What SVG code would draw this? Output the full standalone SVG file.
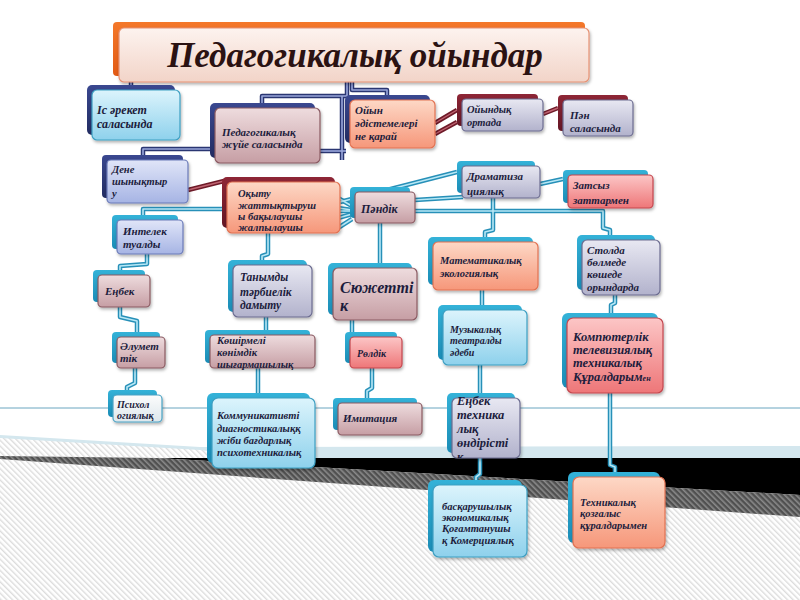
<svg xmlns="http://www.w3.org/2000/svg" xmlns:xlink="http://www.w3.org/1999/xlink" width="800" height="600" viewBox="0 0 800 600">
<defs>
<pattern id="hatchL" patternUnits="userSpaceOnUse" width="4" height="4" patternTransform="rotate(-45)">
<rect width="4" height="4" fill="#ffffff"/><rect width="1.4" height="4" fill="#dcdcdc"/>
</pattern>
<pattern id="hatchD" patternUnits="userSpaceOnUse" width="4" height="4" patternTransform="rotate(-45)">
<rect width="4" height="4" fill="#505050"/><rect width="1.6" height="4" fill="#8a8a8a"/>
</pattern>
<linearGradient id="gCyan" x1="0" y1="0" x2="0" y2="1"><stop offset="0" stop-color="#dcf4fc"/><stop offset="1" stop-color="#8ed1ec"/></linearGradient>
<linearGradient id="gLav" x1="0" y1="0" x2="0" y2="1"><stop offset="0" stop-color="#e8e8f2"/><stop offset="1" stop-color="#b2b2cc"/></linearGradient>
<linearGradient id="gMauve" x1="0" y1="0" x2="0" y2="1"><stop offset="0" stop-color="#eedcde"/><stop offset="1" stop-color="#c69ea4"/></linearGradient>
<linearGradient id="gSalmon" x1="0" y1="0" x2="0" y2="1"><stop offset="0" stop-color="#fdd8c6"/><stop offset="1" stop-color="#f6977a"/></linearGradient>
<linearGradient id="gRed" x1="0" y1="0" x2="0" y2="1"><stop offset="0" stop-color="#fcc6c6"/><stop offset="1" stop-color="#ee7678"/></linearGradient>
<linearGradient id="gPeri" x1="0" y1="0" x2="0" y2="1"><stop offset="0" stop-color="#e0e5f8"/><stop offset="1" stop-color="#a6b4e4"/></linearGradient>
<linearGradient id="gGray" x1="0" y1="0" x2="0" y2="1"><stop offset="0" stop-color="#fcfcfc"/><stop offset="1" stop-color="#dde7ec"/></linearGradient>
<linearGradient id="gTitle" x1="0" y1="0" x2="0" y2="1"><stop offset="0" stop-color="#fdf3ef"/><stop offset="1" stop-color="#f2d4c8"/></linearGradient>
<linearGradient id="gNavy" x1="0" y1="0" x2="0" y2="1"><stop offset="0" stop-color="#3a4890"/><stop offset="1" stop-color="#222c62"/></linearGradient>
<linearGradient id="gTeal" x1="0" y1="0" x2="0" y2="1"><stop offset="0" stop-color="#34b2d8"/><stop offset="1" stop-color="#1a8cb6"/></linearGradient>
<linearGradient id="gMaroon" x1="0" y1="0" x2="0" y2="1"><stop offset="0" stop-color="#8e2636"/><stop offset="1" stop-color="#641624"/></linearGradient>
<linearGradient id="gOrange" x1="0" y1="0" x2="0" y2="1"><stop offset="0" stop-color="#f4782a"/><stop offset="1" stop-color="#e25a14"/></linearGradient>
<filter id="sh" x="-10%" y="-10%" width="130%" height="140%"><feDropShadow dx="1" dy="2" stdDeviation="1.5" flood-color="#000" flood-opacity="0.3"/></filter>
<clipPath id="clipET"><rect x="452" y="394" width="68" height="64"/></clipPath>
</defs>
<style>
.t{font-family:"Liberation Serif","DejaVu Serif",serif;font-style:italic;font-weight:bold;font-size:11px;fill:#1c1c3c}
.title{font-family:"Liberation Serif","DejaVu Serif",serif;font-style:italic;font-weight:bold;font-size:35px;fill:#2b1212}
.fr{filter:url(#sh);stroke-width:1.2}
.cyan{fill:url(#gCyan);stroke:#3d9fc2}
.lav{fill:url(#gLav);stroke:#6c6c90}
.mauve{fill:url(#gMauve);stroke:#8a5a62}
.salmon{fill:url(#gSalmon);stroke:#e27252}
.red{fill:url(#gRed);stroke:#c4464e}
.peri{fill:url(#gPeri);stroke:#6a7ab8}
.gray{fill:url(#gGray);stroke:#4aa2c4}
.bnavy{fill:url(#gNavy)}
.bteal{fill:url(#gTeal)}
.bmaroon{fill:url(#gMaroon)}
.tealO{fill:none;stroke:#2790b8;stroke-width:4.5;stroke-linejoin:round}
.tealI{fill:none;stroke:#b8e8f6;stroke-width:1.6;stroke-linejoin:round}
.navyO{fill:none;stroke:#2a3672;stroke-width:4.5;stroke-linejoin:round}
.navyI{fill:none;stroke:#9aa8dc;stroke-width:1.6;stroke-linejoin:round}
.marO{fill:none;stroke:#6e1a28;stroke-width:4.5}
.marI{fill:none;stroke:#c06472;stroke-width:1.4}
</style>

<g id="background">
<rect width="800" height="600" fill="#ffffff"/>
<line x1="0" y1="408" x2="800" y2="408" stroke="#6aa6c0" stroke-width="1"/>
<polygon points="0,437 200,449 800,449 800,600 0,600" fill="url(#hatchL)"/>
<polygon points="0,435 200,447 800,446 800,458 260,458 200,450 0,438" fill="#d4e7ee"/>
<polygon points="157,458 800,458 800,495" fill="#000000"/>
<polygon points="0,456 157,458 800,495 800,517 0,459" fill="url(#hatchD)"/>
</g>

<g id="connectors">
<g class="tealO">
<path id="c1" d="M338,198 L352,206"/>
<path id="c2" d="M338,208 L352,210"/>
<path id="c3" d="M338,218 L352,214"/>
<path id="c4" d="M338,228 L352,219"/>
<path id="c5" d="M340,202 L457,172"/>
<path id="c6" d="M415,200 L463,197"/>
<path id="c7" d="M340,211 H603 V228 L610,230 V236"/>
<path id="c8" d="M540,184 L563,179"/>
<path id="c9" d="M493,198 V230 L485,232 V238"/>
<path id="c10" d="M380,223 V263"/>
<path id="c11" d="M268,233 V254 L262,256 V260"/>
<path id="c12" d="M228,209 H143 V216"/>
<path id="c13" d="M147,254 V264 L120,266 V270"/>
<path id="c14" d="M120,307 V317 L137,321 V332"/>
<path id="c15" d="M135,368 V383 L127,387 V390"/>
<path id="c16" d="M266,317 V330"/>
<path id="c17" d="M258,368 V393"/>
<path id="c18" d="M352,320 V332"/>
<path id="c19" d="M372,368 V388 L367,391 V398"/>
<path id="c20" d="M482,290 V305"/>
<path id="c21" d="M480,365 V393"/>
<path id="c22" d="M480,458 V474 L476,477 V480"/>
<path id="c23" d="M615,295 V303 L611,305 V313"/>
<path id="c24" d="M610,393 V465 L615,467 V472"/>
</g>
<g class="tealI">
<use href="#c1"/><use href="#c2"/><use href="#c3"/><use href="#c4"/><use href="#c5"/><use href="#c6"/>
<use href="#c7"/><use href="#c8"/><use href="#c9"/><use href="#c10"/><use href="#c11"/><use href="#c12"/>
<use href="#c13"/><use href="#c14"/><use href="#c15"/><use href="#c16"/><use href="#c17"/><use href="#c18"/>
<use href="#c19"/><use href="#c20"/><use href="#c21"/><use href="#c22"/><use href="#c23"/><use href="#c24"/>
</g>
<g class="navyO">
<path id="n1" d="M131,80 V86"/>
<path id="n2" d="M347,82 V96 H262 V103"/>
<path id="n3" d="M352,82 V90 H387 V96"/>
<path id="n4" d="M320,151 H346"/>
<path id="n5" d="M342,96 V160"/>
<path id="n6" d="M215,149 H143 V155"/>
</g>
<g class="navyI">
<use href="#n1"/><use href="#n2"/><use href="#n3"/><use href="#n4"/><use href="#n5"/><use href="#n6"/>
</g>
<g class="marO">
<path id="m1" d="M435,123 L457,110"/>
<path id="m2" d="M435,134 L457,122"/>
<path id="m3" d="M543,114 L558,108"/>
<path id="m4" d="M188,190 L224,181"/>
</g>
<g class="marI">
<use href="#m1"/><use href="#m2"/><use href="#m3"/><use href="#m4"/>
</g>
</g>

<g id="title">
<rect x="113" y="22" width="472" height="54" rx="4" fill="url(#gOrange)"/>
<rect class="fr" x="119" y="28" width="470" height="54" rx="5" fill="url(#gTitle)" stroke="#e69274"/>
<text class="title" x="355" y="67" text-anchor="middle">Педагогикалық ойындар</text>
</g>

<g id="isareket">
<rect class="bnavy" x="87" y="85" width="88" height="50" rx="5"/>
<rect class="fr cyan" x="92" y="90" width="88" height="50" rx="5"/>
<text class="t"><tspan x="97" y="114" style="font-size:12px">Іс әрекет</tspan><tspan x="97" y="128" style="font-size:12px">саласында</tspan></text>
</g>

<g id="pedjuie">
<rect class="bnavy" x="210" y="103" width="105" height="55" rx="5"/>
<rect class="fr mauve" x="215" y="108" width="105" height="55" rx="5"/>
<text class="t"><tspan x="222" y="136">Педагогикалық</tspan><tspan x="222" y="148">жүйе саласында</tspan></text>
</g>

<g id="oiyn">
<rect class="bnavy" x="345" y="95" width="85" height="48" rx="5"/>
<rect class="fr salmon" x="350" y="100" width="85" height="48" rx="5"/>
<text class="t"><tspan x="355" y="114">Ойын</tspan><tspan x="355" y="127">әдістемелері</tspan><tspan x="355" y="140">не қарай</tspan></text>
</g>

<g id="oiyndyk">
<rect class="bmaroon" x="457" y="94" width="81" height="32" rx="4"/>
<rect class="fr lav" x="462" y="99" width="81" height="32" rx="4"/>
<text class="t" style="font-size:10.5px"><tspan x="467" y="113">Ойындық</tspan><tspan x="467" y="126">ортада</tspan></text>
</g>

<g id="pan">
<rect class="bmaroon" x="558" y="95" width="70" height="36" rx="4"/>
<rect class="fr lav" x="563" y="100" width="70" height="36" rx="4"/>
<text class="t"><tspan x="570" y="119">Пән</tspan><tspan x="570" y="132">саласында</tspan></text>
</g>

<g id="dene">
<rect class="bnavy" x="102" y="155" width="81" height="43" rx="4"/>
<rect class="fr peri" x="107" y="160" width="81" height="43" rx="4"/>
<text class="t" style="font-size:10.5px"><tspan x="112" y="173">Дене</tspan><tspan x="112" y="185">шынықтыр</tspan><tspan x="112" y="197">у</tspan></text>
</g>

<g id="okytu">
<rect class="bmaroon" x="222" y="177" width="113" height="51" rx="5"/>
<rect class="fr salmon" x="227" y="182" width="113" height="51" rx="5"/>
<text class="t" style="font-size:10.5px"><tspan x="238" y="197">Оқыту</tspan><tspan x="238" y="209">жаттықтыруш</tspan><tspan x="238" y="220">ы бақылаушы</tspan><tspan x="238" y="231">жалпылаушы</tspan></text>
</g>

<g id="intelek">
<rect class="bteal" x="112" y="215" width="66" height="34" rx="4"/>
<rect class="fr peri" x="117" y="220" width="66" height="34" rx="4"/>
<text class="t"><tspan x="123" y="235">Интелек</tspan><tspan x="123" y="248">туалды</tspan></text>
</g>

<g id="pandik">
<rect class="bteal" x="350" y="187" width="60" height="31" rx="4"/>
<rect class="fr mauve" x="355" y="192" width="60" height="31" rx="4"/>
<text class="t" x="361" y="213" style="font-size:12px">Пәндік</text>
</g>

<g id="drama">
<rect class="bteal" x="457" y="161" width="78" height="32" rx="4"/>
<rect class="fr lav" x="462" y="166" width="78" height="32" rx="4"/>
<text class="t"><tspan x="467" y="180">Драматиза</tspan><tspan x="467" y="195">циялық</tspan></text>
</g>

<g id="zatsyz">
<rect class="bteal" x="563" y="170" width="85" height="33" rx="4"/>
<rect class="fr red" x="568" y="175" width="85" height="33" rx="4"/>
<text class="t"><tspan x="573" y="189">Затсыз</tspan><tspan x="573" y="204">заттармен</tspan></text>
</g>

<g id="enbek">
<rect class="bteal" x="93" y="270" width="52" height="32" rx="4"/>
<rect class="fr mauve" x="98" y="275" width="52" height="32" rx="4"/>
<text class="t" x="105" y="295">Еңбек</text>
</g>

<g id="aleumet">
<rect class="bteal" x="112" y="332" width="48" height="31" rx="4"/>
<rect class="fr mauve" x="117" y="337" width="48" height="31" rx="4"/>
<text class="t"><tspan x="120" y="350">Әлумет</tspan><tspan x="120" y="362">тік</tspan></text>
</g>

<g id="psihol">
<rect class="bteal" x="108" y="390" width="49" height="27" rx="4"/>
<rect class="fr gray" x="113" y="395" width="49" height="27" rx="4"/>
<text class="t" style="font-size:10px"><tspan x="117" y="408">Психол</tspan><tspan x="117" y="419">огиялық</tspan></text>
</g>

<g id="tanymdy">
<rect class="bteal" x="228" y="260" width="79" height="52" rx="5"/>
<rect class="fr lav" x="233" y="265" width="79" height="52" rx="5"/>
<text class="t" style="font-size:11.5px"><tspan x="240" y="281">Танымды</tspan><tspan x="240" y="296">тәрбиелік</tspan><tspan x="240" y="309">дамыту</tspan></text>
</g>

<g id="koshirmeli">
<rect class="bteal" x="205" y="330" width="105" height="33" rx="4"/>
<rect class="fr mauve" x="210" y="335" width="105" height="33" rx="4"/>
<text class="t" style="font-size:10.5px"><tspan x="217" y="344">Көшірмелі</tspan><tspan x="217" y="356">көнімдік</tspan><tspan x="217" y="368">шығармашылық</tspan></text>
</g>

<g id="syuzhet">
<rect class="bteal" x="328" y="263" width="84" height="52" rx="5"/>
<rect class="fr mauve" x="333" y="268" width="84" height="52" rx="5"/>
<text class="t" style="font-size:16px"><tspan x="340" y="293">Сюжетті</tspan><tspan x="340" y="311">к</tspan></text>
</g>

<g id="roldik">
<rect class="bteal" x="345" y="332" width="52" height="31" rx="4"/>
<rect class="fr red" x="350" y="337" width="52" height="31" rx="4"/>
<text class="t" x="357" y="357" style="font-size:10px">Рөлдік</text>
</g>

<g id="imitacia">
<rect class="bteal" x="333" y="398" width="84" height="32" rx="4"/>
<rect class="fr mauve" x="338" y="403" width="84" height="32" rx="4"/>
<text class="t" x="343" y="422">Имитация</text>
</g>

<g id="kommun">
<rect class="bteal" x="207" y="393" width="103" height="70" rx="6"/>
<rect class="fr cyan" x="212" y="398" width="103" height="70" rx="6"/>
<text class="t" style="font-size:10.5px"><tspan x="217" y="419">Коммуникативті</tspan><tspan x="217" y="432">диагностикалыққ</tspan><tspan x="217" y="444">жіби бағдарлық</tspan><tspan x="217" y="456">психотехникалық</tspan></text>
</g>

<g id="matem">
<rect class="bteal" x="428" y="237" width="105" height="48" rx="5"/>
<rect class="fr salmon" x="433" y="242" width="105" height="48" rx="5"/>
<text class="t" style="font-size:10.5px"><tspan x="440" y="264">Математикалық</tspan><tspan x="440" y="277">экологиялық</tspan></text>
</g>

<g id="stolda">
<rect class="bteal" x="577" y="235" width="78" height="55" rx="5"/>
<rect class="fr lav" x="582" y="240" width="78" height="55" rx="5"/>
<text class="t"><tspan x="587" y="254">Столда</tspan><tspan x="587" y="266">бөлмеде</tspan><tspan x="587" y="278">көшеде</tspan><tspan x="587" y="291">орындарда</tspan></text>
</g>

<g id="muzyka">
<rect class="bteal" x="438" y="305" width="84" height="55" rx="5"/>
<rect class="fr cyan" x="443" y="310" width="84" height="55" rx="5"/>
<text class="t" style="font-size:10px"><tspan x="450" y="333">Музыкалық</tspan><tspan x="450" y="344">театралды</tspan><tspan x="450" y="356">әдеби</tspan></text>
</g>

<g id="komp">
<rect class="bteal" x="562" y="313" width="96" height="75" rx="6"/>
<rect class="fr red" x="567" y="318" width="96" height="75" rx="6"/>
<text class="t" style="font-size:12.5px"><tspan x="573" y="341">Компютерлік</tspan><tspan x="573" y="354">телевизиялық</tspan><tspan x="573" y="367">техникалық</tspan><tspan x="573" y="381">Құралдарым<tspan style="font-size:8px">ен</tspan></tspan></text>
</g>

<g id="enbektech">
<rect class="bteal" x="447" y="393" width="68" height="60" rx="5"/>
<rect class="fr lav" x="452" y="398" width="68" height="60" rx="5"/>
<text class="t" style="font-size:12.5px" clip-path="url(#clipET)"><tspan x="457" y="405">Еңбек</tspan><tspan x="457" y="419">техника</tspan><tspan x="457" y="433">лық</tspan><tspan x="457" y="447">өндірісті</tspan><tspan x="457" y="461">к</tspan></text>
</g>

<g id="baskaru">
<rect class="bteal" x="428" y="480" width="94" height="72" rx="6"/>
<rect class="fr cyan" x="433" y="485" width="94" height="72" rx="6"/>
<text class="t" style="font-size:10.5px"><tspan x="442" y="510">басқарушылық</tspan><tspan x="442" y="521">экономикалық</tspan><tspan x="442" y="532">Қоғамтанушы</tspan><tspan x="442" y="544">қ Комерциялық</tspan></text>
</g>

<g id="tehnik">
<rect class="bteal" x="568" y="472" width="92" height="71" rx="6"/>
<rect class="fr salmon" x="573" y="477" width="92" height="71" rx="6"/>
<text class="t" style="font-size:10.5px"><tspan x="580" y="506">Техникалық</tspan><tspan x="580" y="517">қозғалыс</tspan><tspan x="580" y="529">құралдарымен</tspan></text>
</g>
</svg>
